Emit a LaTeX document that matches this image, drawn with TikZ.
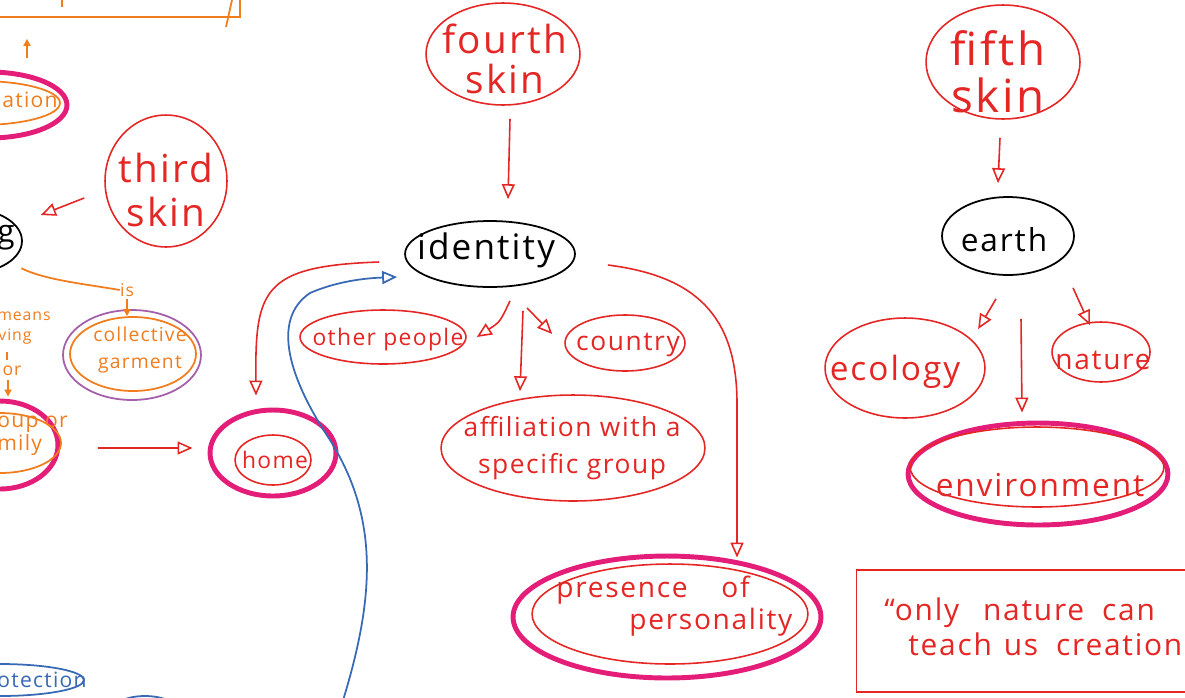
\documentclass[tikz,border=0pt]{standalone}
\usepackage{fontspec}
\setmainfont{Open Sans}[LetterSpace=6]
\usetikzlibrary{shapes.geometric,arrows.meta,calc}
\definecolor{rd}{RGB}{228,38,36}
\definecolor{pk}{RGB}{228,30,120}
\definecolor{orc}{RGB}{240,125,30}
\definecolor{pu}{RGB}{165,95,170}
\definecolor{bl}{RGB}{55,105,180}
\newcommand\fz[2]{\fontsize{#1}{#2}\selectfont}
\begin{document}
\begin{tikzpicture}[x=0.02cm,y=-0.02cm,
  ov/.style 2 args={ellipse, inner sep=0pt, minimum width=#1*0.04cm, minimum height=#2*0.04cm},
  rl/.style={draw=rd, line width=0.9pt},
  ring/.style={draw=pk, line width=2.8pt},
  blk/.style={draw=black, line width=1pt},
  ol/.style={draw=orc, line width=1pt},
  tx/.style={inner sep=0pt, align=center, text=rd},
  otx/.style={inner sep=0pt, align=center, text=orc},
  arr/.style={draw=rd, line width=0.9pt, -{Triangle[open,length=0.3cm,width=0.26cm]}},
  barr/.style={draw=bl, line width=1pt, -{Triangle[open,length=0.3cm,width=0.26cm]}},
  oarr/.style={draw=orc, line width=1pt, -{Triangle[length=0.14cm,width=0.14cm]}}
]
\fill[white] (0,0) rectangle (1185,697);
\useasboundingbox (0,0) rectangle (1185,697);
\clip (0,0) rectangle (1185,697);

% top-left orange box fragment
\node[rectangle, ol, inner sep=0pt, minimum width=5cm, minimum height=2.28cm] (topbox) at (115,-40) {};
\draw[ol] (232,0) -- (226,27);
\draw[ol] (62,0) -- (62,7);

% ...ation
\node[ov={80}{22}, ol] (ation) at (-20,103) {};
\node[ov={78}{33}, ring] (ationR) at (-11,105) {};
\node[otx, font=\fz{12}{12}] (ationT) at (30,100) {ation};
\draw[oarr] ($(ationR.north)+(38,-12)$) -- ($(topbox.south)+(-88,21)$);

% third skin
\node[ov={61}{66}, rl] (third) at (166,181) {};
\node[tx, font=\fz{22}{25}] (thirdT) at (166,190) {third\\skin};

% g node
\node[ov={52}{32}, blk] (g) at (-30,241) {};
\node[inner sep=0pt, font=\fz{18}{18}] (gT) at (6,238) {g};
\draw[arr] ($(third.west)+(-20,17)$) -- ($(g.east)+(18,-26)$);

% is -> collective garment
\node[otx, font=\fz{10}{10}] (isT) at (127,290) {is};
\draw[ol] ($(g.south east)+(14,4)$) .. controls (45,280) and (85,284) .. (isT.west);
\node[ov={69}{45}, draw=pu, line width=1pt] (collP) at (132,355) {};
\node[ov={63}{37}, ol] (collO) at (133,354) {};
\node[otx, font=\fz{11}{15}] (collT) at (140,350) {collective\\garment};
\draw[oarr] ($(isT.south)+(0,2)$) -- (isT.south |- collO.north);

% left orange text
\node[otx, font=\fz{9}{9}] (meansT) at (24,316) {means};
\node[otx, font=\fz{9}{9}] (vingT) at (15,337) {ving};
\draw[ol] (7,352) -- (7,360);
\node[otx, font=\fz{10}{10}] (orT) at (12,371) {or};

% group or family
\node[ov={58}{44}, ring] (grpR) at (0,445) {};
\node[ov={61}{30}, ol] (grpO) at (0,443) {};
\node[otx, align=left, anchor=west, font=\fz{12}{13}] (grpT) at (-3,436) {oup or\\mily};
\draw[oarr] ($(orT.south)+(-4,4)$) -- ($(grpR.north)+(8,-2)$);

% home
\node[ov={63}{43}, ring] (homeR) at (273,453) {};
\node[ov={38}{25}, rl] (home) at (273,460) {};
\node[tx, font=\fz{13}{13}] (homeT) at (275,460) {home};
\draw[arr] ($(grpR.east)+(38,3)$) -- ($(homeR.west)+(-15,-5)$);

% fourth skin
\node[ov={77}{51}, rl] (fourth) at (503,54) {};
\node[tx, font=\fz{22}{23}] (fourthT) at (505,59) {fourth\\skin};

% identity
\node[ov={85}{33}, blk] (identity) at (490,254) {};
\node[inner sep=0pt, font=\fz{20}{20}] (identityT) at (486,250) {identity};
\draw[arr] ($(fourth.south)+(7,13)$) -- ($(identity.north)+(18,-21)$);

% identity -> home, blue back-link
\draw[arr] ($(identity.west)+(-25,8)$) .. controls (262,266) and (255,290) .. ($(homeR.north)+(-17,-12)$);
\coordinate (blueS) at (340,710);
\draw[barr] (blueS) .. controls (375,600) and (380,520) .. (330,440)
  .. controls (290,380) and (270,320) .. (310,293)
  .. controls (340,280) and (370,278) .. ($(identity.west)+(-7,23)$);

% other people, country, affiliation
\node[ov={83}{27}, rl] (other) at (383,337) {};
\node[tx, font=\fz{13}{13}] (otherT) at (388,340) {other people};
\node[ov={60}{28}, rl] (country) at (625,343) {};
\node[tx, font=\fz{15}{15}] (countryT) at (628,345) {country};
\node[ov={132}{53}, rl] (affil) at (573,448) {};
\node[tx, font=\fz{15}{21}] (affilT) at (572,448) {affiliation with a\\specific group};
\draw[arr] ($(identity.south)+(20,13)$) .. controls (500,322) .. ($(other.east)+(10,0)$);
\draw[arr] ($(identity.south)+(33,23)$) -- ($(affil.north)+(-53,-3)$);
\draw[arr] ($(identity.south)+(37,20)$) -- ($(country.west)+(-12,-9)$);

% presence of personality
\node[ov={154}{61}, ring] (presR) at (667,617) {};
\node[ov={138}{50}, rl] (pres) at (670,614) {};
\node[tx, align=left, anchor=west, font=\fz{16}{18}] (presT) at (556,606) {presence\hspace{1.2em}of\\\hspace{2.6em}personality};
\draw[arr] ($(identity.east)+(32,11)$) .. controls (695,276) and (737,315) .. ($(presR.north)+(70,-150)$) -- ($(presR.north)+(70,4)$);

% fifth skin
\node[ov={77}{57}, rl] (fifth) at (1003,62) {};
\node[tx, font=\fz{26}{27}] (fifthT) at (998,72) {fifth\\skin};

% earth
\node[ov={66}{39}, blk] (earth) at (1008,236) {};
\node[inner sep=0pt, font=\fz{18}{18}] (earthT) at (1004,240) {earth};
\draw[arr] ($(fifth.south)+(-3,18)$) -- ($(earth.north)+(-10,-13)$);

% ecology, nature, environment
\node[ov={80}{50}, rl] (ecology) at (905,368) {};
\node[tx, font=\fz{19}{19}] (ecologyT) at (895,372) {ecology};
\node[ov={49}{30}, rl] (nature) at (1101,352) {};
\node[tx, font=\fz{16}{16}] (natureT) at (1103,360) {nature};
\node[ov={130}{51}, ring] (envR) at (1038,474) {};
\node[ov={127}{40}, rl] (env) at (1037,467) {};
\node[tx, font=\fz{18}{18}] (envT) at (1040,485) {environment};
\draw[arr] ($(earth.south)+(-12,23)$) -- ($(ecology.north east)+(16,-3)$);
\draw[arr] ($(earth.south)+(13,43)$) -- ($(envR.north)+(-16,-8)$);
\draw[arr] ($(earth.south)+(65,12)$) -- ($(nature.north)+(-11,4)$);

% quote box
\node[rectangle, rl, inner sep=0pt, minimum width=6.86cm, minimum height=2.44cm] (quote) at (1028,631) {};
\node[tx, align=left, anchor=west, font=\fz{17}{20}] (quoteT) at (884,627) {“only\hspace{0.8em}nature\hspace{0.6em}can\\\hspace{0.8em}teach\hspace{0.4em}us\hspace{0.6em}creation};

% blue fragments
\node[ov={84}{16}, draw=bl, line width=1pt] (prot) at (0,680) {};
\node[inner sep=0pt, text=bl, font=\fz{12}{12}] (protT) at (42,680) {otection};
\node[ov={32}{14}, draw=bl, line width=1pt] (bl2) at (145,710) {};
\end{tikzpicture}
\end{document}
